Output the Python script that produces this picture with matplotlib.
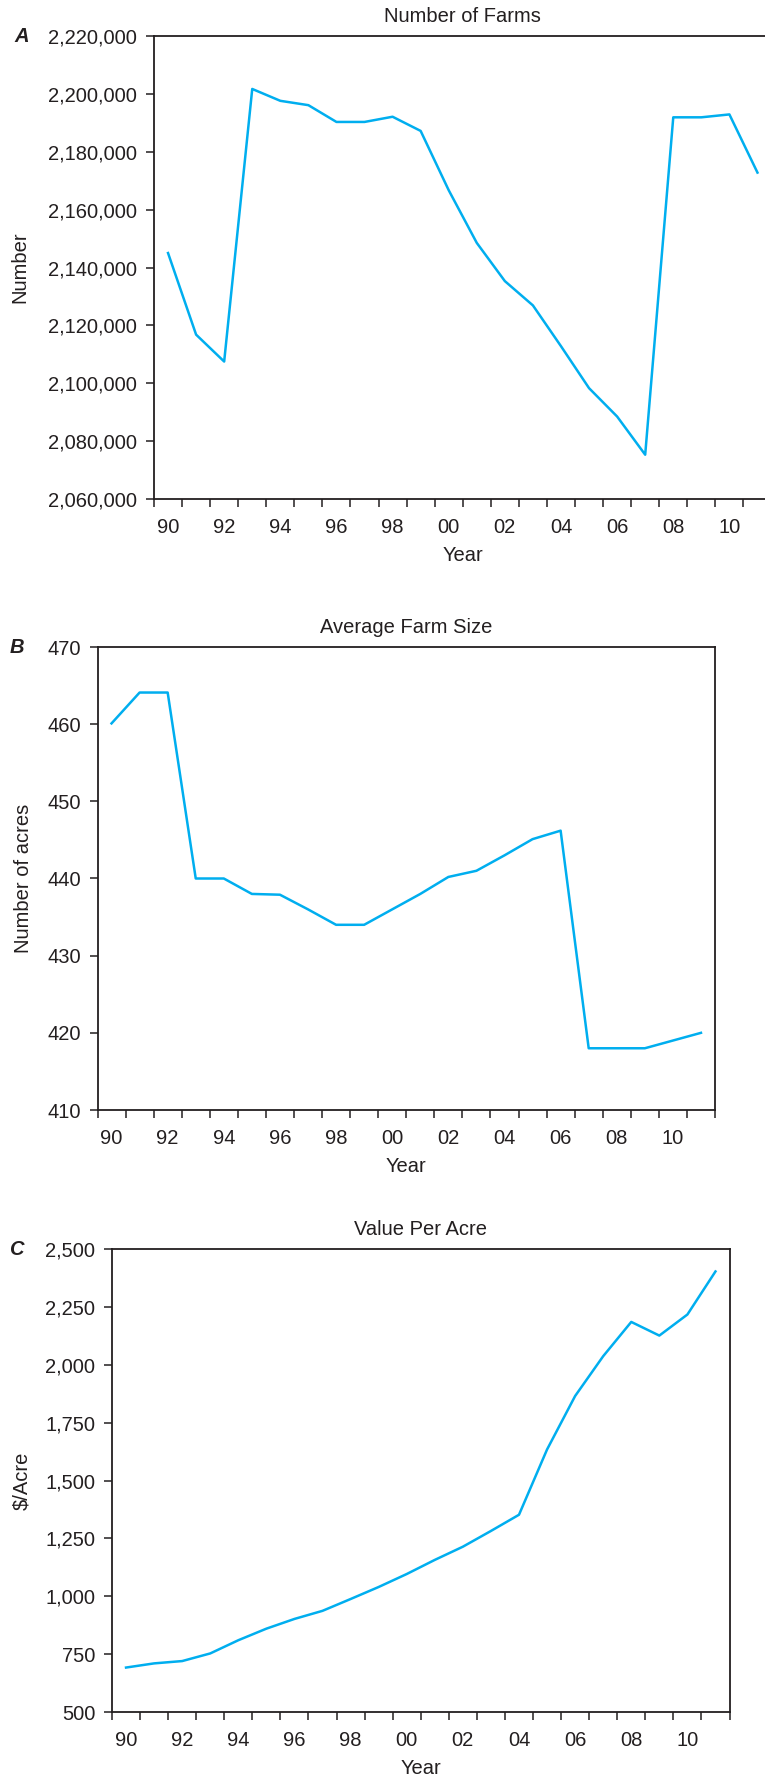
import numpy as np
import matplotlib
matplotlib.use('Agg')
import matplotlib.pyplot as plt
from matplotlib.ticker import FuncFormatter

plt.rcParams['font.family'] = ['Liberation Sans', 'DejaVu Sans']

# data
years = list(range(1990, 2012))
year_labels = ['90', '92', '94', '96', '98', '00', '02', '04', '06', '08', '10']

farms = [2145000, 2116800, 2107500, 2201700, 2197600, 2196100, 2190300, 2190300,
         2192100, 2187200, 2166700, 2148500, 2135300, 2126900, 2112800, 2098300,
         2088500, 2075300, 2191900, 2191900, 2192900, 2172800]

farm_size = [460.1, 464.1, 464.1, 440.0, 440.0, 438.0, 437.9, 436.0, 434.0, 434.0,
             436.0, 438.0, 440.2, 441.0, 443.0, 445.1, 446.2, 418.0, 418.0, 418.0,
             419.0, 420.0]

value_acre = [692, 710, 720, 753, 810, 860, 902, 937, 988, 1040, 1096, 1157, 1214,
              1282, 1352, 1634, 1865, 2037, 2185, 2126, 2217, 2403]

W, H = 765, 1776
TXT = '#231f20'
LINE = '#00aeef'
FS = 14.5

fig = plt.figure(figsize=(W / 100, H / 100), dpi=100)


def px_axes(left, top, width, height):
    return fig.add_axes([left / W, 1 - (top + height) / H, width / W, height / H])


commas = FuncFormatter(lambda v, p: '{:,.0f}'.format(v))


def setup(ax, title, ylabel, yticks, ylim, letter, label_x, letter_x, fmt=None):
    n = len(years)
    x = np.arange(n)
    ax.set_xlim(-0.5, n - 0.5)
    ax.set_ylim(*ylim)
    ax.set_yticks(yticks)
    if fmt is not None:
        ax.yaxis.set_major_formatter(fmt)
    # ticks at year boundaries, labels at the centre of even years
    ax.set_xticks(np.arange(-0.5, n, 1.0))
    ax.set_xticklabels([])
    ax.set_xticks(x[::2], year_labels, minor=True)
    ax.tick_params(axis='x', which='major', length=6, width=1.1, color=TXT, direction='out')
    ax.tick_params(axis='x', which='minor', length=0, pad=14, labelsize=FS, labelcolor=TXT)
    ax.tick_params(axis='y', length=6, width=1.1, color=TXT, pad=6, labelsize=FS, labelcolor=TXT)
    for s in ax.spines.values():
        s.set_linewidth(1.3)
        s.set_color(TXT)
    ax.set_title(title, fontsize=FS, color=TXT, pad=10)
    ax.set_xlabel('Year', fontsize=FS, color=TXT, labelpad=6)

    bb = ax.get_position()
    fig.text(label_x / W, bb.y0 + bb.height / 2, ylabel, rotation=90, ha='center',
             va='center', fontsize=FS, color=TXT)
    fig.text(letter_x / W, bb.y1, letter, ha='center', va='center', fontsize=FS,
             fontweight='bold', fontstyle='italic', color=TXT)
    return x


# A - number of farms (panel runs past the right edge of the page)
axA = px_axes(154, 36, 617.5, 463)
x = setup(axA, 'Number of Farms', 'Number', np.arange(2060000, 2220001, 20000),
          (2060000, 2220000), 'A', 20, 21.5, commas)
axA.plot(x, farms, color=LINE, lw=1.8)

# B - average farm size
axB = px_axes(97.5, 647, 617.5, 463)
x = setup(axB, 'Average Farm Size', 'Number of acres', np.arange(410, 471, 10),
          (410, 470), 'B', 24, 17)
axB.plot(x, farm_size, color=LINE, lw=1.8)

# C - value per acre
axC = px_axes(112, 1249, 617.5, 463)
x = setup(axC, 'Value Per Acre', '$/Acre', np.arange(500, 2501, 250),
          (500, 2500), 'C', 22, 16, commas)
axC.plot(x, value_acre, color=LINE, lw=1.8)

fig.savefig('out.png', dpi=100, facecolor='white')
